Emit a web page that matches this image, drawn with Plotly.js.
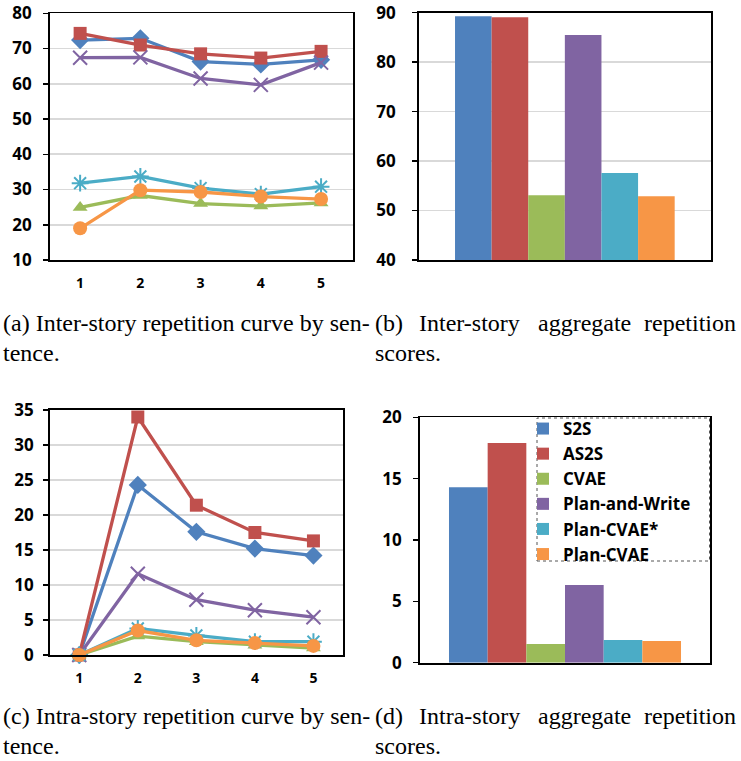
<!DOCTYPE html>
<html>
<head>
<meta charset="utf-8">
<script src="https://cdn.plot.ly/plotly-3.0.1.min.js"></script>
<style>
  html, body { margin: 0; padding: 0; background: #fff; }
  #chart { width: 741px; height: 761px; }
</style>
</head>
<body>
<div id="chart"></div>
<script>
// ---------- data ----------
var models = ['S2S', 'AS2S', 'CVAE', 'Plan-and-Write', 'Plan-CVAE*', 'Plan-CVAE'];
var sentences = [1, 2, 3, 4, 5];
var sentenceLabels = ['1', '2', '3', '4', '5'];

// (a) inter-story repetition by sentence
var interS2S      = [72.4, 72.9, 66.3, 65.5, 66.8];
var interAS2S     = [74.3, 71.0, 68.5, 67.3, 69.2];
var interCVAE     = [24.9, 28.3, 26.0, 25.3, 26.2];
var interPaW      = [67.4, 67.5, 61.5, 59.7, 66.0];
var interPCVAEs   = [31.8, 33.7, 30.4, 28.7, 30.8];
var interPCVAE    = [19.0, 29.8, 29.3, 28.0, 27.3];

// (c) intra-story repetition by sentence
var intraS2S      = [0, 24.3, 17.6, 15.2, 14.2];
var intraAS2S     = [0, 34.0, 21.4, 17.5, 16.3];
var intraCVAE     = [0, 2.7, 1.9, 1.4, 1.0];
var intraPaW      = [0, 11.6, 7.9, 6.4, 5.4];
var intraPCVAEs   = [0, 3.8, 2.8, 1.9, 1.9];
var intraPCVAE    = [0, 3.5, 2.1, 1.7, 1.3];

// (b), (d) aggregate scores
var interAggregate = [89.3, 89.1, 53.1, 85.5, 57.6, 52.9];
var intraAggregate = [14.3, 17.9, 1.52, 6.33, 1.85, 1.77];

var yTicksA = [10, 20, 30, 40, 50, 60, 70, 80];
var yTicksB = [40, 50, 60, 70, 80, 90];
var yTicksC = [0, 5, 10, 15, 20, 25, 30, 35];
var yTicksD = [0, 5, 10, 15, 20];

var captions = {
  a1: '(a) Inter-story repetition curve by sen-',
  a2: 'tence.',
  b1: ['(b)', 'Inter-story', 'aggregate', 'repetition'],
  b2: 'scores.',
  c1: '(c) Intra-story repetition curve by sen-',
  c2: 'tence.',
  d1: ['(d)', 'Intra-story', 'aggregate', 'repetition'],
  d2: 'scores.'
};

// ---------- styles ----------
var colors = ['#4F81BD', '#C0504D', '#9BBB59', '#8064A2', '#4BACC6', '#F79646'];
var symbols = ['diamond', 'square', 'triangle-up', 'x-thin-open', 'asterisk-open', 'circle'];
var sizes = [14, 13, 13, 14, 14, 14];

var W = 741, H = 761;
function px(x) { return x / W; }
function py(y) { return 1 - y / H; }

var sansBold = '"Open Sans", Lato, sans-serif';
var tickFont = {family: sansBold, size: 17, weight: 'bold', color: '#000'};
var xTickFont = {family: sansBold, size: 14, weight: 'bold', color: '#000'};

var interSeries = [interS2S, interAS2S, interCVAE, interPaW, interPCVAEs, interPCVAE];
var intraSeries = [intraS2S, intraAS2S, intraCVAE, intraPaW, intraPCVAEs, intraPCVAE];

var traces = [];
function lineTrace(ys, i, xa, ya) {
  var open = symbols[i].indexOf('open') >= 0;
  return {
    type: 'scatter', mode: 'lines+markers', x: sentences, y: ys,
    xaxis: xa, yaxis: ya, showlegend: false, name: models[i],
    line: {color: colors[i], width: 3.3},
    marker: {symbol: symbols[i], size: sizes[i], color: colors[i],
             line: {color: colors[i], width: open ? 2 : 0}},
    cliponaxis: false
  };
}
for (var i = 0; i < models.length; i++) traces.push(lineTrace(interSeries[i], i, 'x', 'y'));
for (var i = 0; i < models.length; i++) traces.push(lineTrace(intraSeries[i], i, 'x3', 'y3'));
for (var i = 0; i < models.length; i++) {
  traces.push({type: 'bar', x: ['agg'], y: [interAggregate[i]], xaxis: 'x2', yaxis: 'y2',
               name: models[i], marker: {color: colors[i]}, showlegend: false});
}
for (var i = 0; i < models.length; i++) {
  traces.push({type: 'bar', x: ['agg'], y: [intraAggregate[i]], xaxis: 'x4', yaxis: 'y4',
               name: models[i], marker: {color: colors[i]}, showlegend: true});
}

function yAxis(domain, ticks, range, grid, anchor, standoff) {
  return {domain: domain, range: range, tickvals: ticks, ticktext: ticks.map(String),
          tickfont: tickFont, ticks: 'outside', ticklen: 5, tickwidth: 1.5, tickcolor: '#000',
          ticklabelstandoff: standoff,
          showline: true, linecolor: '#000', linewidth: 1.8, mirror: true,
          showgrid: grid, gridcolor: '#d9d9d9', gridwidth: 1.6, zeroline: false,
          anchor: anchor, fixedrange: true};
}
function xLineAxis(domain, range, anchor) {
  return {domain: domain, range: range, tickvals: sentences, ticktext: sentenceLabels,
          tickfont: xTickFont, ticks: '', ticklabelstandoff: 9,
          showline: true, linecolor: '#000', linewidth: 1.8, mirror: true,
          showgrid: false, zeroline: false, anchor: anchor};
}
function xBarAxis(domain, range, anchor) {
  return {domain: domain, range: range, type: 'category', showticklabels: false, ticks: '',
          showline: true, linecolor: '#000', linewidth: 1.8, mirror: true,
          showgrid: false, zeroline: false, anchor: anchor};
}

var capFont = {family: '"Liberation Serif", "Times New Roman", serif', size: 24, color: '#000'};
var annotations = [];
function cap(text, x, y, anchor) {
  annotations.push({text: text, xref: 'paper', yref: 'paper', x: px(x), y: py(y),
                    xanchor: anchor || 'left', yanchor: 'middle', showarrow: false,
                    font: capFont, borderpad: 0});
}
var topL1 = 323, topL2 = 353, botL1 = 716, botL2 = 746;
cap(captions.a1, 2, topL1);
cap(captions.a2, 2, topL2);
var justX = [374, 418, 537, 737];
var justA = ['left', 'left', 'left', 'right'];
captions.b1.forEach(function (w, k) { cap(w, justX[k], topL1, justA[k]); });
cap(captions.b2, 374, topL2);
cap(captions.c1, 2, botL1);
cap(captions.c2, 2, botL2);
captions.d1.forEach(function (w, k) { cap(w, justX[k], botL1, justA[k]); });
cap(captions.d2, 374, botL2);

var layout = {
  width: W, height: H,
  margin: {l: 0, r: 0, t: 0, b: 0},
  paper_bgcolor: '#fff', plot_bgcolor: '#fff',
  barmode: 'group', bargap: 0.247, bargroupgap: 0,
  xaxis:  xLineAxis([px(50), px(353)], [0.5, 5.53], 'y'),
  yaxis:  yAxis([py(260), py(13.3)], yTicksA, [10, 80], true, 'x', 8),
  xaxis2: xBarAxis([px(419), px(710.7)], [-0.5, 0.5], 'y2'),
  yaxis2: yAxis([py(260), py(12.7)], yTicksB, [40, 90], true, 'x2', 13),
  xaxis3: xLineAxis([px(50), px(343.3)], [0.5, 5.51], 'y3'),
  yaxis3: yAxis([py(655), py(410)], yTicksC, [0, 35], true, 'x3', 6),
  xaxis4: xBarAxis([px(420), px(710)], [-0.4706, 0.4706], 'y4'),
  yaxis4: yAxis([py(662.7), py(417.3)], yTicksD, [0, 20], false, 'x4', 8),
  showlegend: true,
  legend: {x: px(523), y: py(411), xanchor: 'left', yanchor: 'top',
           bgcolor: 'rgba(255,255,255,0)', borderwidth: 0,
           font: {family: sansBold, size: 17, weight: 'bold', color: '#000'},
           traceorder: 'normal', tracegroupgap: 0},
  shapes: [{type: 'rect', xref: 'paper', yref: 'paper',
            x0: px(537), x1: px(709.5), y0: py(561), y1: py(418),
            line: {color: '#555', width: 1, dash: 'dot'}, fillcolor: 'rgba(0,0,0,0)'}],
  annotations: annotations
};

Plotly.newPlot('chart', traces, layout, {staticPlot: true, displayModeBar: false});
</script>
</body>
</html>
